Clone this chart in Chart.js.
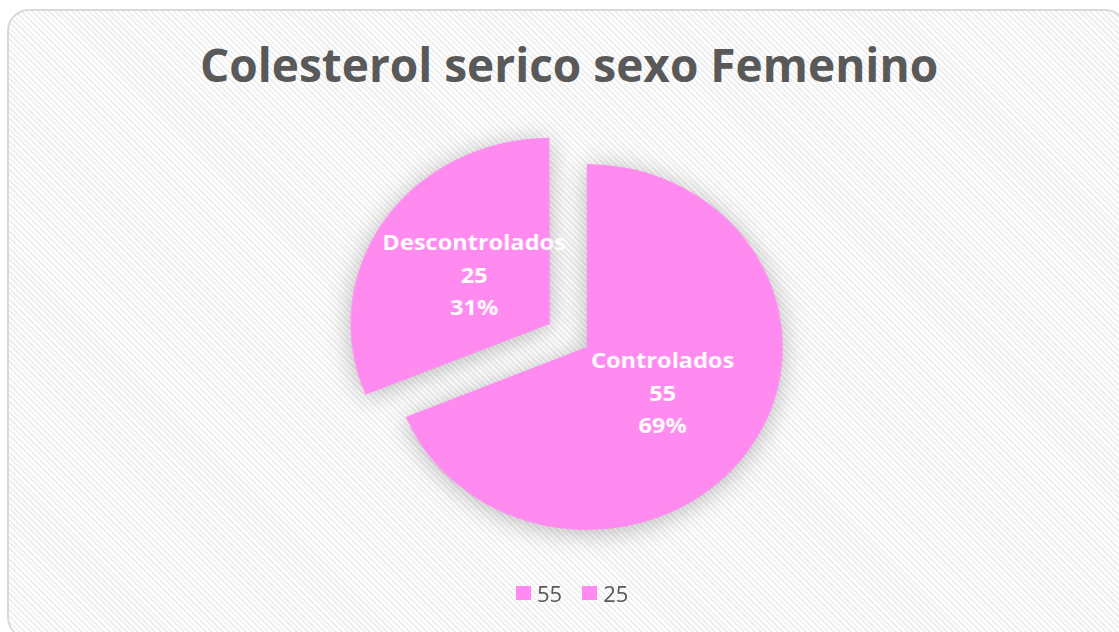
<!DOCTYPE html>
<html>
<head>
<meta charset="utf-8">
<script src="https://cdn.jsdelivr.net/npm/chart.js@4.4.1/dist/chart.umd.min.js"></script>
<style>
  html, body { margin: 0; padding: 0; width: 1119px; height: 632px; overflow: hidden; background: #ffffff; }
  #frame {
    position: absolute; left: 7px; top: 9px; width: 1116px; height: 626px;
    border: 2px solid #d9d9d9; border-radius: 22px;
    background: repeating-linear-gradient(45deg, #ffffff 0px, #ffffff 2px, #efefef 2px, #efefef 4px);
  }
  #title {
    position: absolute; left: 0; top: 41px; width: 1138px; text-align: center;
    font-family: "Open Sans", sans-serif; font-weight: 700; font-size: 46px; line-height: 1;
    color: #595959; white-space: nowrap;
  }
  #pieWrap {
    position: absolute; left: 0; top: 0; width: 1045px; height: 632px;
    transform: scaleX(1.0708); transform-origin: 0 0;
  }
  #legend {
    position: absolute; left: 516px; top: 580px; display: flex; align-items: center;
    font-family: "Open Sans", sans-serif; font-size: 22px; color: #595959; line-height: 26px;
  }
  .item { display: flex; align-items: center; margin-right: 20px; }
  .box { width: 15px; height: 14px; margin-right: 6px; }
</style>
</head>
<body>
<div id="frame"></div>
<div id="title">Colesterol serico sexo Femenino</div>
<div id="pieWrap"><canvas id="c"></canvas></div>
<div id="legend"></div>
<script>
const categories = ["Controlados", "Descontrolados"];
const values = [55, 25];
const legendLabels = ["55", "25"];
const sliceColors = ["#FF8BF1", "#FF8BF1"];

// Chart.js v4 draws an arc's offset at one quarter of the given value
const EXPLODE = 166;
const explode = [0, EXPLODE];

const total = values.reduce((a, b) => a + b, 0);

const piePlugin = {
  id: 'pieExtras',
  beforeDatasetsDraw(chart) {
    const ctx = chart.ctx;
    ctx.save();
    ctx.shadowColor = 'rgba(0,0,0,0.26)';
    ctx.shadowBlur = 24;
    ctx.shadowOffsetX = 0;
    ctx.shadowOffsetY = 3;
  },
  afterDatasetsDraw(chart) {
    const ctx = chart.ctx;
    ctx.restore();
    const meta = chart.getDatasetMeta(0);
    ctx.save();
    ctx.fillStyle = '#ffffff';
    ctx.font = 'bold 22px "Open Sans", sans-serif';
    ctx.textAlign = 'center';
    ctx.textBaseline = 'middle';
    meta.data.forEach((arc, i) => {
      const p = arc.getProps(['x', 'y', 'startAngle', 'endAngle', 'outerRadius'], true);
      const mid = (p.startAngle + p.endAngle) / 2;
      const off = (arc.options.offset || 0) / 4;
      const d = off + p.outerRadius * 0.465;
      const x = p.x + Math.cos(mid) * d;
      const y = p.y + Math.sin(mid) * d;
      const pct = Math.round(values[i] / total * 100) + '%';
      ctx.fillText(categories[i], x, y - 32.5);
      ctx.fillText(String(values[i]), x, y);
      ctx.fillText(pct, x, y + 32.5);
    });
    ctx.restore();
  }
};

const chart = new Chart(document.getElementById('c'), {
  type: 'pie',
  data: {
    labels: legendLabels,
    datasets: [{
      data: values,
      backgroundColor: sliceColors,
      borderWidth: 0,
      offset: explode,
      hoverOffset: 0
    }]
  },
  options: {
    responsive: true,
    maintainAspectRatio: false,
    animation: false,
    events: [],
    radius: 183,
    rotation: 0,
    layout: { padding: { left: 51, right: 0, top: 62, bottom: 0 } },
    plugins: {
      legend: { display: false },
      title: { display: false },
      tooltip: { enabled: false }
    }
  },
  plugins: [piePlugin]
});

const legend = document.getElementById('legend');
legendLabels.forEach((lab, i) => {
  const item = document.createElement('div');
  item.className = 'item';
  const box = document.createElement('span');
  box.className = 'box';
  box.style.background = sliceColors[i];
  const txt = document.createElement('span');
  txt.textContent = lab;
  item.appendChild(box);
  item.appendChild(txt);
  legend.appendChild(item);
});
</script>
</body>
</html>
